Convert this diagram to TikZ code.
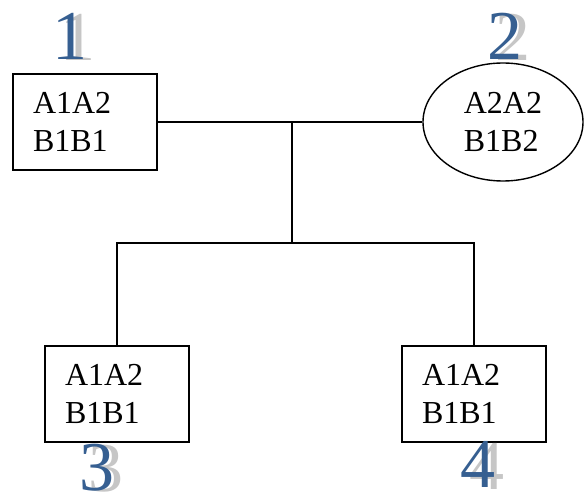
\documentclass[tikz,border=0pt]{standalone}
\usepackage{fontspec}
\setmainfont{Liberation Serif}
\usetikzlibrary{shapes.geometric}
\definecolor{numblue}{RGB}{54,95,145}

\begin{document}
\begin{tikzpicture}[
    x=1pt, y=-1pt,
    box/.style={rectangle, draw, line width=1.5pt, text width=104pt, inner xsep=20pt, minimum height=96pt, align=left, font=\fontsize{32}{38}\selectfont},
    oval/.style={ellipse, draw, line width=1.4pt, minimum width=160pt, minimum height=118pt, inner sep=0pt, align=left, font=\fontsize{32}{38}\selectfont},
    link/.style={line width=1.1pt},
    num/.style={anchor=base, inner sep=0pt, text=numblue, font=\fontsize{70}{70}\selectfont},
    numshade/.style={anchor=base, inner sep=0pt, text=gray!45, font=\fontsize{70}{70}\selectfont}
]
\useasboundingbox (0,0) rectangle (584,497);

% Genotypes
\node[box] (g1) at (85,122) {A1A2\\B1B1};
\node[oval] (g2) at (503,122) {A2A2\\B1B2};
\node[box] (g3) at (117,394) {A1A2\\B1B1};
\node[box] (g4) at (474,394) {A1A2\\B1B1};

% Links
\coordinate (mid) at (292,122);
\coordinate (fork) at (292,243);
\draw[link] (g1.east) -- (g2.west);
\draw[link] (mid) -- (fork);
\draw[link] (g3.north) |- (fork) -| (g4.north);

% Numbers
\node[numshade] (s1) at (78,61) {1};
\node[num] (n1) at (70,60) {1};
\node[numshade] (s2) at (513,61) {2};
\node[num] (n2) at (505,60) {2};
\node[numshade] (s3) at (106,491) {3};
\node[num] (n3) at (97,490) {3};
\node[numshade] (s4) at (487,489) {4};
\node[num] (n4) at (478,487) {4};

\end{tikzpicture}
\end{document}
